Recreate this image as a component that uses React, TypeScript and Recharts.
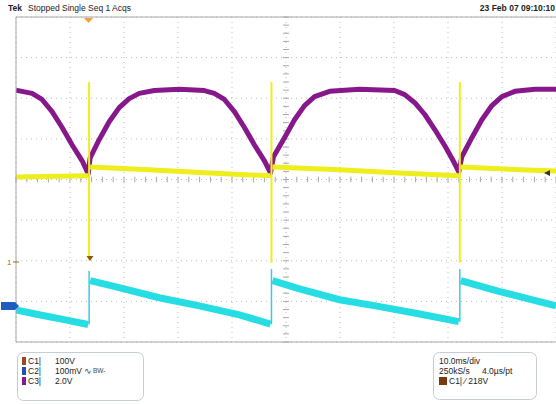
import { CartesianGrid, Line, LineChart, ReferenceLine, XAxis, YAxis } from "recharts";

// time axis in ms (10 ms/div), vertical axis in divisions
const timeTicks = [0, 10, 20, 30, 40, 50, 60, 70, 80, 90, 100];
const divTicks = [-4, -3, -2, -1, 0, 1, 2, 3, 4];
const minorTime = Array.from({ length: 51 }, (_, i) => i * 2);
const minorDiv = Array.from({ length: 41 }, (_, i) => Math.round((-4 + i * 0.2) * 10) / 10);

type Pt = [number, number | null];

// C3 (purple)
const c3Trace: Pt[] = [
  [0, 2.2], [1.1, 2.17], [2.97, 2.12], [4.82, 1.97], [6.68, 1.67], [8.54, 1.28],
  [10.4, 0.85], [12.25, 0.46], [13.36, 0.14], [13.73, 0.53], [15.4, 0.98], [17.25, 1.42],
  [19.11, 1.77], [20.96, 1.99], [22.82, 2.12], [25.6, 2.19], [30.24, 2.22],
  [34.88, 2.19], [36.73, 2.12], [38.59, 1.97], [40.45, 1.67], [42.3, 1.28],
  [44.16, 0.85], [46.01, 0.46], [47.12, 0.16], [47.68, 0.56], [49.72, 1.03],
  [51.58, 1.47], [53.43, 1.82], [55.29, 2.04], [58.07, 2.17], [63.64, 2.22],
  [70.13, 2.19], [71.99, 2.09], [73.84, 1.89], [75.7, 1.6], [77.55, 1.23],
  [79.41, 0.83], [80.89, 0.48], [82.0, 0.19], [82.56, 0.56], [84.42, 1.03],
  [86.27, 1.47], [88.13, 1.82], [89.98, 2.04], [92.39, 2.17], [96.1, 2.22], [100, 2.22],
];

// C1 (yellow) baseline and its spikes
const c1Trace: Pt[] = [
  [0, 0.06], [13.36, 0.09], [13.5, null],
  [13.73, 0.31], [24.68, 0.24], [35.81, 0.16], [47.12, 0.09], [47.3, null],
  [47.5, 0.31], [59.93, 0.24], [71.06, 0.16], [82.0, 0.09], [82.2, null],
  [82.37, 0.31], [93.32, 0.24], [100, 0.21],
];
const c1Spikes: Pt[] = [
  [13.54, 2.4], [13.54, -1.99], [13.6, null],
  [47.31, 2.4], [47.31, -2.05], [47.4, null],
  [82.19, 2.4], [82.19, -2.05],
];

// C2 (cyan) ramp and its edges
const c2Trace: Pt[] = [
  [0, -3.21], [4.27, -3.33], [8.91, -3.45], [13.36, -3.57], [13.5, null],
  [13.73, -2.49], [19.11, -2.66], [26.53, -2.91], [33.95, -3.11], [41.37, -3.33], [47.12, -3.56], [47.3, null],
  [47.5, -2.49], [52.5, -2.69], [59.93, -2.96], [67.35, -3.13], [74.77, -3.31], [82.0, -3.5], [82.2, null],
  [82.37, -2.49], [89.61, -2.76], [100, -3.11],
];
const c2Edges: Pt[] = [
  [13.54, -3.57], [13.54, -2.25], [13.6, null],
  [47.31, -3.56], [47.31, -2.2], [47.4, null],
  [82.19, -3.5], [82.19, -2.2],
];

const toRows = (pts: Pt[]) => pts.map(([t, v]) => ({ t, v }));

const font = "'Liberation Sans', Arial, sans-serif";
const noTick = () => <g />;

export default function App() {
  return (
    <div style={{ position: "absolute", left: 0, top: 0, width: 556, height: 404, overflow: "hidden", background: "#fff" }}>
      <LineChart width={556} height={404} margin={{ top: 17, right: 0, bottom: 62, left: 16 }}>
        <XAxis xAxisId={0} type="number" dataKey="t" domain={[0, 100]} ticks={timeTicks} hide allowDataOverflow />
        <YAxis yAxisId={0} type="number" domain={[-4, 4]} ticks={divTicks} hide allowDataOverflow />
        <XAxis xAxisId="top" orientation="top" type="number" domain={[0, 100]} ticks={minorTime} height={1}
          mirror tickSize={3} tick={noTick} stroke="#a8a8a8" />
        <XAxis xAxisId="bot" orientation="bottom" type="number" domain={[0, 100]} ticks={minorTime} height={1}
          mirror tickSize={3} tick={noTick} stroke="#a8a8a8" />
        <YAxis yAxisId="left" orientation="left" type="number" domain={[-4, 4]} ticks={minorDiv} width={1}
          mirror tickSize={3} tick={noTick} stroke="#a8a8a8" />
        <CartesianGrid stroke="#bdbdbd" strokeDasharray="1 4" />
        {minorTime.map((t) => (
          <ReferenceLine key={`mt${t}`} segment={[{ x: t, y: -0.07 }, { x: t, y: 0.07 }]} stroke="#a8a8a8" />
        ))}
        {minorDiv.map((v) => (
          <ReferenceLine key={`mv${v}`} segment={[{ x: 49.45, y: v }, { x: 50.55, y: v }]} stroke="#a8a8a8" />
        ))}
        <Line data={toRows(c3Trace)} dataKey="v" type="linear" stroke="#87188c" strokeWidth={5}
          dot={false} isAnimationActive={false} strokeLinejoin="round" />
        <Line data={toRows(c2Trace)} dataKey="v" type="linear" stroke="#25dde3" strokeWidth={7}
          dot={false} isAnimationActive={false} />
        <Line data={toRows(c2Edges)} dataKey="v" type="linear" stroke="#3fc9e0" strokeWidth={1.5}
          dot={false} isAnimationActive={false} />
        <Line data={toRows(c1Trace)} dataKey="v" type="linear" stroke="#eeee1c" strokeWidth={5}
          dot={false} isAnimationActive={false} />
        <Line data={toRows(c1Spikes)} dataKey="v" type="linear" stroke="#eeee1c" strokeWidth={2}
          dot={false} isAnimationActive={false} />
      </LineChart>
      <svg width={556} height={404} style={{ position: "absolute", left: 0, top: 0, pointerEvents: "none" }}
        fontFamily={font} fontSize={8.5}>
        <text x={8} y={11} fontWeight="bold" fill="#222">Tek</text>
        <text x={28} y={11} fill="#222">Stopped Single Seq 1 Acqs</text>
        <text x={555} y={11} textAnchor="end" fontWeight="bold" fill="#222">23 Feb 07 09:10:10</text>
        {/* trigger position marker */}
        <path d="M84,18 L93,18 L88.5,23 Z" fill="#f0a040" />
        {/* C1 level marker */}
        <text x={7} y={265} fill="#b0651a" fontSize={8}>1</text>
        <line x1={13} y1={262} x2={19} y2={262} stroke="#b0651a" strokeWidth={1} />
        <path d="M86.5,256 L93.5,256 L90,261 Z" fill="#8a5a14" />
        {/* C2 ground marker */}
        <rect x={1} y={302} width={14} height={8} fill="#1f5cbf" />
        <path d="M15,302 L19,306 L15,310 Z" fill="#1f5cbf" />
        {/* trigger level */}
        <path d="M544,173 L550,170 L550,176 Z" fill="#333" />
        {/* channel readout */}
        <rect x={17.5} y={352.5} width={126} height={48} rx={6} fill="#fff" stroke="#c5ccd8" />
        <rect x={22} y={357} width={4} height={8} fill="#9a4a1a" />
        <rect x={22} y={367} width={4} height={8} fill="#2350b8" />
        <rect x={22} y={377} width={4} height={8} fill="#8a1a8c" />
        <text x={28} y={364} fill="#222">C1|</text>
        <text x={28} y={374} fill="#222">C2|</text>
        <text x={28} y={384} fill="#222">C3|</text>
        <text x={55} y={364} fill="#222">100V</text>
        <text x={55} y={374} fill="#222">100mV</text>
        <text x={84} y={374} fill="#444">∿</text>
        <text x={93} y={373} fill="#444" fontSize={6.5}>BW-</text>
        <text x={55} y={384} fill="#222">2.0V</text>
        {/* timebase readout */}
        <rect x={433.5} y={352.5} width={103} height={47} rx={6} fill="#fff" stroke="#c5ccd8" />
        <text x={439} y={364} fill="#222">10.0ms/div</text>
        <text x={439} y={374} fill="#222">250kS/s</text>
        <text x={482} y={374} fill="#222">4.0µs/pt</text>
        <rect x={439} y={377} width={8} height={8} fill="#7a3a10" />
        <text x={449} y={384} fill="#222">C1| ⁄ 218V</text>
      </svg>
    </div>
  );
}
